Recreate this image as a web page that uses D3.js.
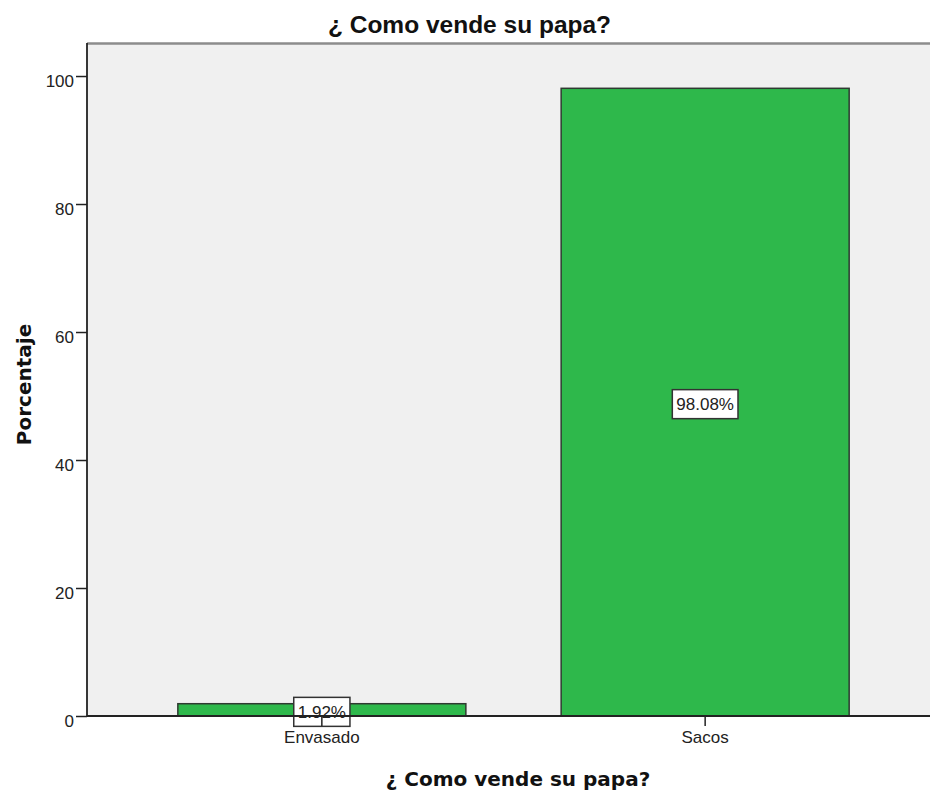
<!DOCTYPE html>
<html>
<head>
<meta charset="utf-8">
<script src="https://cdn.jsdelivr.net/npm/d3@7"></script>
<style>
  html, body { margin: 0; padding: 0; background: #ffffff; }
  svg { display: block; }
</style>
</head>
<body>
<div id="chart"></div>
<script>
// Survey answers: how the potato harvest is sold
const categories = ["Envasado", "Sacos"];
const percentages = [1.92, 98.08];
const yTicks = [0, 20, 40, 60, 80, 100];
const chartTitle = "¿ Como vende su papa?";
const xTitle = "¿ Como vende su papa?";
const yTitle = "Porcentaje";

const width = 930, height = 796;
const plot = { left: 87, right: 940, top: 43, bottom: 716 };

const svg = d3.select("#chart").append("svg")
  .attr("width", width)
  .attr("height", height);

svg.append("rect").attr("width", width).attr("height", height).attr("fill", "#ffffff");

const x = d3.scaleBand()
  .domain(categories)
  .range([plot.left, plot.right])
  .paddingInner(0.2486)
  .paddingOuter(0.237);

const y = d3.scaleLinear()
  .domain([0, 105.16])
  .range([plot.bottom, plot.top]);

// plot background
svg.append("rect")
  .attr("x", plot.left)
  .attr("y", plot.top)
  .attr("width", plot.right - plot.left)
  .attr("height", plot.bottom - plot.top)
  .attr("fill", "#f0f0f0");

// top frame line
svg.append("line")
  .attr("x1", plot.left).attr("x2", plot.right)
  .attr("y1", plot.top + 0.5).attr("y2", plot.top + 0.5)
  .attr("stroke", "#8c8c8c").attr("stroke-width", 2.5);

const data = categories.map((c, i) => ({ cat: c, value: percentages[i] }));

// bars
svg.append("g").selectAll("rect")
  .data(data)
  .join("rect")
  .attr("x", d => x(d.cat))
  .attr("y", d => y(d.value))
  .attr("width", x.bandwidth())
  .attr("height", d => y(0) - y(d.value))
  .attr("fill", "#2eb84b")
  .attr("stroke", "#2f3a31")
  .attr("stroke-width", 1.5);

// value labels in boxes, centred at half the bar height
const labels = svg.append("g").selectAll("g")
  .data(data)
  .join("g")
  .attr("transform", d => `translate(${x(d.cat) + x.bandwidth() / 2},${y(d.value / 2) + 2})`);

labels.append("text")
  .attr("text-anchor", "middle")
  .attr("dy", "0.35em")
  .attr("font-family", "'Liberation Sans', Arial, sans-serif")
  .attr("font-size", 17)
  .attr("fill", "#222")
  .text(d => d.value.toFixed(2) + "%")
  .each(function () {
    const b = this.getBBox();
    d3.select(this.parentNode).insert("rect", "text")
      .attr("x", b.x - 4)
      .attr("y", -14.5)
      .attr("width", b.width + 8)
      .attr("height", 29)
      .attr("fill", "#ffffff")
      .attr("stroke", "#333")
      .attr("stroke-width", 1.5);
  });

// y axis
const yAxis = svg.append("g")
  .attr("transform", `translate(${plot.left},0)`)
  .call(d3.axisLeft(y).tickValues(yTicks).tickSize(11).tickPadding(2).tickFormat(d3.format("d")));
yAxis.select(".domain").remove();
yAxis.selectAll(".tick line").attr("stroke", "#222").attr("stroke-width", 1.5);
yAxis.selectAll(".tick text")
  .attr("font-family", "'Liberation Sans', Arial, sans-serif")
  .attr("font-size", 17)
  .attr("fill", "#222")
  .attr("dy", "0.6em");

svg.append("line")
  .attr("x1", plot.left).attr("x2", plot.left)
  .attr("y1", plot.top).attr("y2", plot.bottom)
  .attr("stroke", "#222").attr("stroke-width", 1.8);

// x axis
const xAxis = svg.append("g")
  .attr("transform", `translate(0,${plot.bottom})`)
  .call(d3.axisBottom(x).tickSize(10).tickPadding(5));
xAxis.select(".domain").remove();
xAxis.selectAll(".tick line").attr("stroke", "#222").attr("stroke-width", 1.5);
xAxis.selectAll(".tick text")
  .attr("font-family", "'Liberation Sans', Arial, sans-serif")
  .attr("font-size", 17)
  .attr("fill", "#222");

svg.append("line")
  .attr("x1", plot.left).attr("x2", plot.right)
  .attr("y1", plot.bottom).attr("y2", plot.bottom)
  .attr("stroke", "#222").attr("stroke-width", 1.8);

// titles
svg.append("text")
  .attr("x", 469.5).attr("y", 33)
  .attr("text-anchor", "middle")
  .attr("font-family", "'Liberation Sans', Arial, sans-serif")
  .attr("font-weight", "bold")
  .attr("font-size", 24.5)
  .attr("fill", "#111")
  .text(chartTitle);

svg.append("text")
  .attr("x", 518).attr("y", 786)
  .attr("text-anchor", "middle")
  .attr("font-family", "'DejaVu Sans', Verdana, sans-serif")
  .attr("font-weight", "bold")
  .attr("font-size", 20)
  .attr("fill", "#111")
  .text(xTitle);

svg.append("text")
  .attr("transform", "translate(31,384.5) rotate(-90)")
  .attr("text-anchor", "middle")
  .attr("font-family", "'DejaVu Sans', Verdana, sans-serif")
  .attr("font-weight", "bold")
  .attr("font-size", 20)
  .attr("fill", "#111")
  .text(yTitle);
</script>
</body>
</html>
